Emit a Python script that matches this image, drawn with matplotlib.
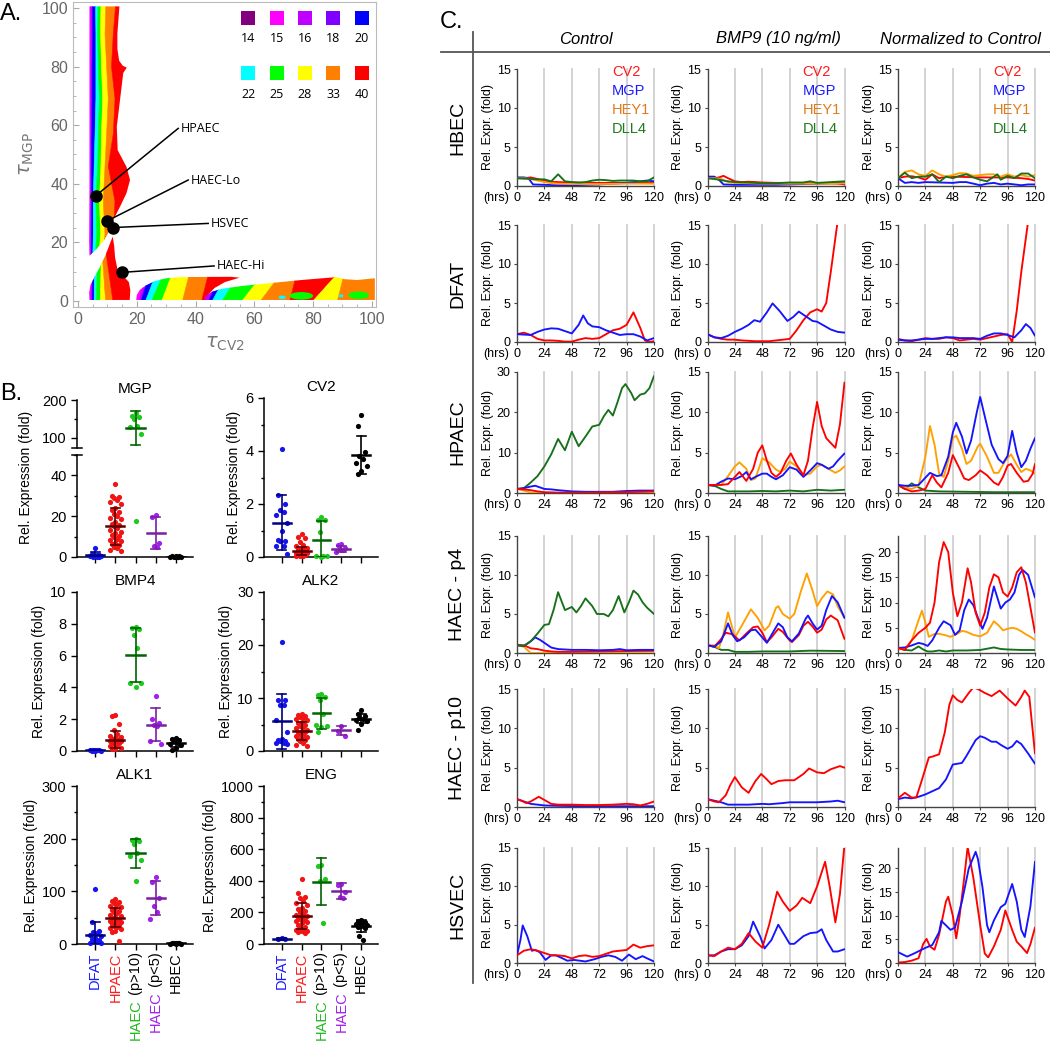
import matplotlib
matplotlib.use("Agg")
import matplotlib.pyplot as plt
from matplotlib.patches import Polygon, Ellipse
from matplotlib.lines import Line2D
from matplotlib.ticker import MultipleLocator

plt.rcParams["font.family"] = ["Liberation Sans", "DejaVu Sans"]
plt.rcParams["mathtext.fontset"] = "dejavusans"

W, H = 1050, 1045

# ---------------- panel A data ----------------
PERIOD_LABELS = [14, 15, 16, 18, 20, 22, 25, 28, 33, 40]
PERIOD_COLORS = ["#800080", "#ff00ff", "#c000ff", "#8000ff", "#0000ff",
                 "#00ffff", "#00ff00", "#ffff00", "#ff8000", "#ff0000"]
PCOL = dict(zip(PERIOD_LABELS, PERIOD_COLORS))

UPPER_OUTLINE = [(3.9, 100.5), (3.9, 40), (3.8, 20), (3.9, 15.5), (6.5, 18.0), (9.0, 21.0),
                 (10.9, 24.3), (12.0, 27.7), (14.3, 32.2), (16.5, 36.8), (17.7, 41.3),
                 (16.5, 45.8), (13.5, 51.5), (13.2, 59.5), (14.3, 68.6), (15.4, 77.8),
                 (16.6, 79.6), (15.2, 80.3), (14.0, 82), (13.4, 86), (13.4, 91.3), (14.1, 100.5)]
UPPER_LEVELS = [14, 23, 34, 46, 57, 69, 80, 91, 101]
UPPER_BOUNDS = [
    [4.2, 4.2, 4.3, 4.2, 4.3, 4.3, 4.4, 4.4, 4.4],
    [4.6, 4.6, 4.7, 4.6, 4.7, 4.8, 4.8, 5.0, 5.0],
    [5.0, 5.2, 5.2, 5.5, 5.8, 6.1, 6.1, 6.1, 6.0],
    [5.9, 6.35, 6.1, 6.7, 6.9, 7.3, 6.9, 6.7, 6.8],
    [7.0, 7.7, 7.3, 7.8, 8.0, 8.4, 8.0, 7.7, 7.8],
    [8.2, 9.2, 8.6, 9.2, 9.75, 10.3, 9.75, 9.2, 9.5],
    [11.5, 12.0, 12.6, 10.3, 12.0, 12.6, 11.4, 12.0, 12.8],
]
UPPER_PERIODS = [15, 16, 20, 22, 25, 28, 33, 40]

LOWER_OUTLINE = [(3.9, 0.4), (3.8, 3), (4.3, 5.5), (5.5, 8), (7.5, 11.7), (9.5, 16), (10.9, 19.7),
                 (11.8, 22.0), (12.3, 19), (12.6, 15), (13.5, 10.5), (15.5, 8.5), (17.3, 6.5),
                 (17.8, 3.8), (17.6, 0.4)]
LOWER_LEVELS = [-1, 23]
LOWER_BOUNDS = [[4.28, 4.79], [4.78, 5.29], [5.49, 5.66], [6.29, 6.63],
                [7.58, 8.09], [9.47, 7.76], [12.04, 8.61]]
LOWER_PERIODS = [15, 16, 20, 22, 25, 28, 33, 40]

STRIP1_OUTLINE = [(19.8, 0.4), (20.0, 2.0), (21.0, 3.8), (23.0, 5.3), (26.0, 6.8), (30.0, 7.8),
                  (35.0, 8.2), (52.0, 8.3), (55.0, 8.0), (50, 6.5), (46.5, 4.5), (44.5, 2.5), (44.0, 0.4)]
STRIP1_LEVELS = [-1, 9]
STRIP1_BOUNDS = [[20.3, 23.3], [21.1, 24.3], [22.6, 26.4], [24.6, 28.9],
                 [28.1, 31.9], [35.3, 37.8], [41.8, 44.3]]
STRIP1_PERIODS = [15, 16, 20, 22, 25, 28, 33, 40]

STRIP2_OUTLINE = [(43.0, 0.4), (43.5, 1.8), (45.5, 3.2), (49.0, 4.2), (56.0, 5.2), (66.0, 6.2),
                  (76.0, 7.2), (88.0, 8.2), (90.5, 7.5), (95.0, 7.2), (101, 7.8), (101, 0.4)]
STRIP2_LEVELS = [-1, 9]
STRIP2_BOUNDS = [[44.0, 48.5], [45.1, 50.6], [48.4, 54.6], [55.0, 62.8], [61.3, 68.8],
                 [71.8, 74.3], [79.0, 88.0], [88.0, 90.5]]
STRIP2_PERIODS = [16, 20, 22, 25, 28, 33, 40, 28, 33]

BLOBS = [(76, 1.8, 8, 2.6, 25), (69.5, 1.3, 2.5, 1.2, 22), (95.5, 2.0, 7, 2.6, 25), (89.5, 1.8, 1.6, 1.0, 22)]

CELL_LINES = ["HPAEC", "HAEC-Lo", "HSVEC", "HAEC-Hi"]
CELL_TAU_CV2 = [6.0, 10.0, 12.0, 14.9]
CELL_TAU_MGP = [35.9, 27.4, 25.1, 9.8]
CELL_LABEL_X = [34.1, 37.5, 44.3, 46.3]
CELL_LABEL_Y = [58.9, 41.3, 26.5, 12.0]

# ---------------- panel B data ----------------
GROUP_MAIN = ["DFAT", "HPAEC", "HAEC", "HAEC", "HBEC"]
GROUP_SUFFIX = ["", "", " (p>10)", " (p<5)", ""]
DOT_COLORS = ["#1414f0", "#f01414", "#1ec81e", "#a020f0", "#000000"]
BAR_COLORS = ["#000080", "#5a0000", "#006400", "#7b1fa2", "#000000"]
LABEL_COLORS = ["#1a1aff", "#ff1a1a", "#22b922", "#a020f0", "#000000"]

MGP_PTS = [[4.5, 1.6, 1.2, 1.0, 0.8, 0.7, 0.5, 0.4, 0.3, 0.2, 0.1, 0.1],
           [36, 30, 29.5, 29, 28, 27, 26, 24, 23, 22, 21, 20, 19, 18.5, 17, 16, 15.5, 15, 14, 13,
            12.5, 12, 11, 10.5, 10, 9, 8.5, 8, 7, 6.5, 6, 5, 4.5, 3.5, 3],
           [166, 158, 155, 150, 130, 128, 110, 17.5],
           [20.6, 19.5, 7.0, 5.3, 5.0],
           [0.4, 0.3, 0.3, 0.2, 0.2, 0.1, 0.1, 0.05]]
MGP_MEAN = [1.0, 15.0, 127, 11.7, 0.2]
MGP_SD = [1.5, 9.0, 45, 7.8, 0.2]

CV2_PTS = [[4.08, 2.35, 2.0, 1.78, 1.7, 1.6, 1.3, 1.0, 0.65, 0.6, 0.6, 0.42, 0.4, 0.1],
           [0.85, 0.75, 0.7, 0.55, 0.45, 0.4, 0.35, 0.3, 0.3, 0.25, 0.2, 0.2, 0.15, 0.15, 0.1,
            0.1, 0.08, 0.05, 0.05, 0.02],
           [1.5, 1.4, 1.38, 0.95, 0.05, 0.03, 0.02, 0.0],
           [0.5, 0.45, 0.35, 0.3, 0.25, 0.2],
           [5.35, 4.95, 3.95, 3.8, 3.7, 3.55, 3.45, 3.25, 3.15]]
CV2_MEAN = [1.3, 0.22, 0.65, 0.3, 3.85]
CV2_SD = [1.05, 0.15, 0.72, 0.12, 0.7]

BMP4_PTS = [[0.08, 0.06, 0.05, 0.05, 0.04, 0.04, 0.03, 0.03, 0.02],
            [2.25, 2.2, 1.7, 1.3, 1.1, 0.95, 0.9, 0.8, 0.75, 0.75, 0.7, 0.7, 0.65, 0.6, 0.6,
             0.55, 0.5, 0.45, 0.4, 0.3, 0.2, 0.15, 0.1],
            [7.8, 7.75, 7.7, 7.3, 6.45, 4.3, 4.25, 4.0],
            [3.45, 2.0, 1.75, 1.65, 1.6, 0.6, 0.45],
            [0.8, 0.75, 0.7, 0.6, 0.5, 0.45, 0.4, 0.2, 0.05]]
BMP4_MEAN = [0.05, 0.72, 6.05, 1.65, 0.5]
BMP4_SD = [0.03, 0.52, 1.7, 1.05, 0.25]

ALK2_PTS = [[20.5, 9.7, 9.6, 8.7, 8.6, 5.8, 3.5, 2.2, 2.0, 1.9, 1.8, 1.6, 1.5, 1.3],
            [7.0, 6.8, 6.6, 6.5, 6.2, 6.0, 5.8, 5.5, 5.2, 5.0, 4.8, 4.5, 4.3, 4.0, 3.8, 3.6,
             3.5, 3.3, 3.0, 2.8, 2.6, 2.4, 2.2, 2.0, 1.8, 1.5, 1.2, 1.0],
            [10.8, 10.5, 10.2, 9.6, 7.0, 5.0, 4.8, 4.5, 3.5],
            [4.8, 3.7, 2.9],
            [7.7, 7.0, 6.6, 6.3, 6.1, 5.9, 5.6, 5.1, 3.9]]
ALK2_MEAN = [5.6, 3.85, 7.1, 3.9, 6.1]
ALK2_SD = [5.2, 1.7, 2.9, 0.9, 0.8]

ALK1_PTS = [[105, 42, 25, 22, 20, 18, 15, 12, 10, 8, 5, 3, 2, 1],
            [85, 82, 80, 78, 76, 72, 70, 68, 65, 62, 60, 58, 55, 53, 52, 50, 48, 47, 45, 44,
             42, 40, 38, 36, 35, 33, 30, 28, 25, 22, 5],
            [200, 198, 195, 190, 172, 168, 160, 120],
            [127, 118, 88, 72, 60, 48],
            [2, 1.5, 1, 1, 1, 0.5, 0.5, 0.5]]
ALK1_MEAN = [17, 50, 172, 87, 1]
ALK1_SD = [25, 18, 27, 32, 0.5]

ENG_PTS = [[38, 30, 30],
           [410, 320, 300, 290, 270, 260, 250, 230, 220, 210, 200, 190, 185, 180, 175, 170,
            165, 160, 150, 145, 140, 130, 120, 110, 100, 95, 90, 85, 80, 75, 70],
           [500, 495, 410, 400, 135],
           [380, 375, 330, 300, 290],
           [150, 145, 140, 135, 130, 125, 120, 115, 110, 100, 50, 25]]
ENG_MEAN = [32, 175, 395, 335, 115]
ENG_SD = [5, 83, 150, 50, 37]

JITTER = [0.0, -0.18, 0.18, -0.09, 0.09, -0.27, 0.27]

# ---------------- panel C data (hours, fold) ----------------
HBEC_CTL = {
    "CV2": [(0, 1.0), (6, 1.0), (12, 1.1), (18, 0.9), (24, 0.7), (30, 0.55), (36, 0.5), (48, 0.45),
            (60, 0.4), (72, 0.4), (84, 0.4), (96, 0.4), (108, 0.4), (120, 0.45)],
    "MGP": [(0, 1.1), (6, 1.1), (10, 1.0), (14, 0.2), (24, 0.15), (36, 0.1), (48, 0.1), (60, 0.15),
            (72, 0.2), (84, 0.3), (96, 0.4), (108, 0.6), (114, 0.7), (120, 0.6)],
    "HEY1": [(0, 1.0), (6, 1.0), (12, 0.9), (18, 0.7), (24, 0.5), (30, 0.35), (36, 0.3), (48, 0.25),
             (72, 0.25), (96, 0.3), (120, 0.3)],
    "DLL4": [(0, 1.0), (6, 0.95), (12, 0.9), (18, 0.85), (24, 0.85), (30, 0.6), (36, 1.5), (42, 0.6),
             (48, 0.5), (54, 0.45), (60, 0.5), (66, 0.7), (72, 0.8), (78, 0.75), (84, 0.65), (90, 0.7),
             (96, 0.7), (102, 0.7), (108, 0.6), (114, 0.6), (120, 1.1)],
}
HBEC_BMP9 = {
    "CV2": [(0, 1.0), (6, 1.0), (10, 1.1), (14, 1.3), (18, 1.0), (24, 0.6), (30, 0.5), (36, 0.55),
            (48, 0.45), (60, 0.4), (72, 0.4), (84, 0.35), (96, 0.35), (108, 0.35), (114, 0.3), (120, 0.2)],
    "MGP": [(0, 1.2), (6, 1.2), (10, 0.8), (14, 0.2), (24, 0.15), (36, 0.15), (48, 0.15), (60, 0.15),
            (72, 0.2), (84, 0.25), (96, 0.3), (108, 0.35), (120, 0.4)],
    "HEY1": [(0, 1.0), (6, 1.0), (12, 0.9), (18, 0.5), (24, 0.4), (36, 0.35), (48, 0.3), (60, 0.3),
             (72, 0.3), (84, 0.3), (96, 0.3), (108, 0.3), (120, 0.35)],
    "DLL4": [(0, 1.0), (6, 0.9), (12, 0.75), (18, 0.6), (24, 0.5), (36, 0.45), (48, 0.35), (60, 0.35),
             (72, 0.45), (84, 0.45), (90, 0.6), (96, 0.4), (108, 0.5), (120, 0.6)],
}
HBEC_NORM = {
    "CV2": [(0, 1.0), (6, 1.2), (12, 1.25), (18, 1.1), (24, 0.8), (30, 1.5), (36, 1.0), (42, 1.2),
            (48, 1.2), (60, 1.15), (72, 1.1), (84, 1.1), (96, 1.1), (108, 1.0), (114, 0.9), (120, 0.7)],
    "MGP": [(0, 1.0), (6, 0.4), (12, 0.5), (18, 0.4), (24, 0.5), (36, 0.45), (48, 0.4), (54, 0.5),
            (60, 0.5), (66, 0.3), (72, 0.1), (78, 0.3), (84, 0.4), (90, 0.2), (96, 0.3), (102, 0.2),
            (108, 0.1), (114, 0.2), (120, 0.2)],
    "HEY1": [(0, 1.0), (6, 1.8), (12, 2.0), (18, 1.5), (24, 1.3), (30, 2.0), (36, 1.5), (42, 1.2),
             (48, 1.4), (54, 1.65), (60, 1.6), (66, 1.3), (72, 1.4), (78, 1.5), (84, 1.5), (90, 1.2),
             (96, 1.5), (102, 1.2), (108, 1.4), (114, 1.2), (120, 1.4)],
    "DLL4": [(0, 1.0), (6, 1.7), (12, 1.0), (18, 1.2), (24, 1.2), (30, 1.5), (36, 0.5), (42, 1.2),
             (48, 1.0), (54, 1.3), (60, 1.5), (66, 1.1), (72, 0.8), (78, 0.6), (84, 1.2), (87, 1.5),
             (90, 0.8), (96, 1.3), (102, 1.0), (108, 1.6), (114, 1.6), (120, 1.0)],
}
DFAT_CTL = {
    "CV2": [(0, 1.0), (6, 1.2), (12, 0.9), (18, 0.4), (24, 0.2), (30, 0.2), (36, 0.15), (42, 0.05),
            (48, 0.05), (54, 0.3), (60, 0.5), (66, 0.4), (72, 0.5), (78, 1.0), (84, 1.5), (90, 1.7),
            (96, 2.2), (102, 3.8), (108, 1.8), (112, 0.2), (116, 0.0), (120, 0.1)],
    "MGP": [(0, 1.0), (6, 0.95), (12, 0.9), (18, 1.3), (24, 1.6), (30, 1.75), (36, 1.7), (42, 1.4),
            (48, 1.1), (54, 2.2), (58, 3.4), (62, 2.4), (66, 2.0), (72, 1.9), (78, 1.5), (84, 1.2),
            (90, 0.9), (96, 1.0), (102, 1.0), (108, 0.7), (114, 0.2), (120, 0.5)],
}
DFAT_BMP9 = {
    "CV2": [(0, 1.0), (6, 0.6), (12, 0.4), (18, 0.3), (24, 0.3), (30, 0.2), (36, 0.15), (42, 0.1),
            (48, 0.1), (54, 0.1), (60, 0.2), (66, 0.3), (72, 0.4), (78, 1.5), (84, 2.8), (90, 3.8),
            (96, 4.2), (100, 3.9), (104, 5.0), (108, 9.0), (114, 15.5), (120, 20)],
    "MGP": [(0, 1.0), (6, 0.6), (12, 0.5), (18, 0.8), (24, 1.3), (30, 1.7), (36, 2.2), (41, 2.8),
            (46, 2.6), (52, 3.8), (57, 4.95), (63, 4.0), (70, 2.7), (75, 3.2), (80, 3.9), (86, 3.3),
            (92, 2.7), (96, 2.6), (102, 2.1), (108, 1.6), (114, 1.3), (120, 1.2)],
}
DFAT_NORM = {
    "CV2": [(0, 0.4), (6, 0.2), (12, 0.1), (18, 0.3), (24, 0.5), (30, 0.4), (36, 0.4), (42, 0.6),
            (48, 0.5), (54, 0.2), (60, 0.3), (66, 0.4), (72, 0.3), (78, 0.5), (84, 0.7), (90, 0.9),
            (96, 1.0), (100, 0.0), (104, 4.0), (108, 9.0), (114, 15.5), (120, 20)],
    "MGP": [(0, 0.3), (6, 0.2), (12, 0.2), (18, 0.3), (24, 0.4), (30, 0.4), (36, 0.5), (42, 0.6),
            (48, 0.6), (54, 0.5), (60, 0.5), (66, 0.5), (72, 0.4), (78, 0.8), (84, 1.1), (90, 1.1),
            (96, 0.9), (102, 0.6), (108, 1.5), (112, 2.3), (116, 1.8), (120, 0.8)],
}
HPAEC_CTL = {
    "HEY1": [(0, 1.0), (6, 0.6), (12, 0.1), (18, 0.0), (36, 0.0), (60, 0.05), (84, 0.1), (108, 0.15),
             (120, 0.2)],
    "DLL4": [(0, 1.0), (6, 1.2), (12, 2.6), (18, 4.2), (24, 6.6), (30, 9.6), (36, 13.4), (42, 10.6),
             (48, 15.2), (54, 11.6), (60, 14.0), (66, 16.5), (72, 16.9), (76, 19.0), (80, 20.6),
             (84, 19.2), (88, 22.5), (92, 26.0), (95, 27.0), (100, 24.8), (103, 23.0), (108, 24.4),
             (112, 24.7), (116, 26.0), (120, 29.0)],
    "MGP": [(0, 1.0), (6, 1.2), (12, 1.6), (16, 1.8), (20, 1.4), (24, 1.0), (30, 0.9), (36, 0.7),
            (48, 0.4), (60, 0.3), (72, 0.3), (84, 0.3), (96, 0.5), (108, 0.6), (120, 0.6)],
    "CV2": [(0, 1.0), (6, 0.9), (12, 0.7), (18, 0.4), (24, 0.2), (36, 0.1), (48, 0.1), (60, 0.1),
            (72, 0.15), (84, 0.2), (96, 0.2), (108, 0.3), (120, 0.4)],
}
HPAEC_BMP9 = {
    "DLL4": [(0, 1.0), (6, 0.9), (12, 0.5), (18, 0.2), (24, 0.2), (36, 0.2), (48, 0.25), (60, 0.2),
             (72, 0.3), (84, 0.2), (96, 0.4), (108, 0.3), (120, 0.4)],
    "HEY1": [(0, 1.0), (6, 1.0), (12, 1.0), (18, 2.1), (24, 3.3), (28, 3.8), (34, 3.0), (38, 1.6),
             (42, 1.8), (48, 4.3), (54, 3.8), (60, 2.9), (64, 2.6), (68, 3.0), (72, 3.9), (78, 3.3),
             (84, 2.2), (90, 2.4), (96, 3.3), (100, 3.5), (106, 3.0), (112, 2.5), (116, 2.8), (120, 3.3)],
    "MGP": [(0, 1.0), (6, 0.9), (12, 1.4), (18, 1.8), (24, 1.7), (30, 2.1), (34, 2.6), (38, 1.7),
            (42, 2.0), (48, 2.4), (52, 2.4), (56, 2.0), (60, 1.7), (66, 2.2), (72, 3.2), (78, 2.9),
            (84, 2.0), (90, 2.8), (96, 3.7), (100, 3.5), (106, 3.0), (110, 3.3), (114, 4.0), (120, 4.9)],
    "CV2": [(0, 1.0), (6, 1.0), (12, 1.0), (18, 1.1), (24, 2.0), (28, 2.6), (34, 1.5), (40, 3.0),
            (44, 5.0), (48, 5.9), (52, 4.0), (56, 2.5), (60, 2.0), (64, 2.5), (69, 4.0), (73, 4.9),
            (78, 3.5), (84, 2.2), (88, 4.0), (92, 8.0), (96, 11.3), (100, 8.3), (104, 6.8), (108, 6.2),
            (112, 5.6), (116, 8.5), (120, 13.7)],
}
HPAEC_NORM = {
    "DLL4": [(0, 1.0), (6, 0.5), (12, 1.2), (18, 0.7), (24, 0.3), (36, 0.2), (60, 0.15), (84, 0.1),
             (120, 0.1)],
    "HEY1": [(0, 1.0), (6, 0.7), (12, 0.5), (18, 0.9), (24, 4.5), (28, 8.3), (32, 6.0), (36, 2.4),
             (40, 2.0), (44, 4.0), (48, 6.8), (51, 7.1), (56, 5.5), (60, 3.6), (64, 4.0), (70, 5.8),
             (72, 6.1), (78, 4.5), (84, 2.5), (88, 2.5), (94, 4.0), (99, 4.8), (104, 3.5), (108, 2.6),
             (112, 3.0), (116, 2.8), (120, 2.4)],
    "CV2": [(0, 1.0), (6, 0.5), (12, 0.2), (18, 0.3), (24, 0.5), (30, 2.2), (34, 1.3), (38, 0.7),
            (44, 2.5), (48, 4.7), (54, 3.0), (58, 1.8), (62, 1.6), (68, 2.2), (72, 2.8), (78, 2.2),
            (84, 1.3), (88, 1.0), (92, 2.0), (96, 3.4), (99, 3.6), (104, 2.5), (110, 1.4), (114, 1.5),
            (118, 2.4), (120, 3.6)],
    "MGP": [(0, 1.0), (6, 0.9), (12, 0.9), (18, 1.0), (24, 1.9), (28, 2.5), (34, 2.1), (38, 2.2),
            (44, 4.5), (48, 7.5), (51, 8.7), (56, 7.0), (60, 4.9), (64, 6.5), (69, 10.0), (72, 11.9),
            (76, 9.5), (82, 6.0), (88, 4.2), (92, 3.7), (96, 4.6), (100, 7.7), (104, 5.0), (108, 3.2),
            (112, 4.0), (116, 5.5), (120, 6.8)],
}
P4_CTL = {
    "HEY1": [(0, 1.0), (6, 0.8), (12, 0.0), (24, 0.0), (48, 0.05), (72, 0.1), (96, 0.1), (120, 0.15)],
    "CV2": [(0, 1.0), (6, 1.0), (12, 0.6), (18, 0.5), (24, 0.3), (30, 0.2), (36, 0.15), (48, 0.15),
            (72, 0.2), (96, 0.25), (120, 0.3)],
    "MGP": [(0, 1.0), (6, 0.9), (12, 1.5), (16, 2.0), (20, 1.7), (26, 1.1), (30, 0.7), (36, 0.5),
            (48, 0.4), (60, 0.4), (72, 0.35), (84, 0.4), (90, 0.5), (96, 0.35), (108, 0.4), (120, 0.4)],
    "DLL4": [(0, 1.0), (6, 0.9), (12, 1.5), (18, 2.5), (24, 3.6), (28, 3.7), (32, 5.5), (36, 7.8),
             (42, 5.5), (48, 5.9), (52, 5.2), (56, 6.0), (60, 7.0), (66, 6.0), (70, 5.0), (76, 5.0),
             (80, 4.7), (84, 5.5), (89, 7.3), (94, 5.2), (98, 6.5), (102, 8.0), (106, 7.5), (110, 6.5),
             (114, 5.8), (120, 5.0)],
}
P4_BMP9 = {
    "DLL4": [(0, 1.0), (6, 0.8), (12, 0.4), (18, 0.4), (24, 0.15), (36, 0.15), (48, 0.2), (60, 0.2),
             (72, 0.2), (90, 0.3), (120, 0.25)],
    "HEY1": [(0, 1.0), (6, 1.0), (10, 0.6), (14, 2.5), (18, 5.2), (24, 2.0), (30, 3.5), (38, 5.6),
             (44, 4.5), (50, 2.9), (54, 3.5), (60, 5.8), (62, 6.0), (66, 5.0), (72, 4.4), (76, 5.0),
             (82, 8.0), (87, 10.2), (92, 8.0), (96, 6.0), (100, 7.0), (105, 7.9), (110, 7.5), (114, 6.0),
             (120, 4.5)],
    "CV2": [(0, 1.0), (6, 0.8), (12, 1.8), (16, 2.6), (22, 2.4), (28, 1.6), (34, 2.5), (40, 3.3),
            (44, 3.4), (48, 2.6), (52, 1.4), (56, 2.0), (62, 3.1), (66, 2.7), (72, 1.6), (74, 1.4),
            (80, 2.3), (84, 3.5), (88, 4.0), (92, 3.4), (96, 2.6), (100, 3.0), (104, 4.3), (108, 4.8),
            (114, 4.2), (120, 1.8)],
    "MGP": [(0, 1.0), (6, 0.8), (12, 1.5), (18, 3.8), (22, 2.3), (26, 1.5), (32, 2.0), (38, 2.9),
            (42, 3.0), (48, 2.0), (52, 1.3), (56, 2.3), (62, 3.8), (66, 3.3), (70, 2.0), (74, 1.5),
            (80, 2.5), (86, 4.4), (88, 4.8), (92, 3.8), (96, 3.0), (100, 3.5), (104, 5.5), (109, 7.3),
            (114, 6.5), (120, 4.5)],
}
P4_NORM = {
    "DLL4": [(0, 1.0), (6, 0.6), (12, 0.5), (18, 1.3), (22, 0.7), (26, 0.3), (30, 0.3), (36, 0.5),
             (42, 0.3), (48, 0.5), (60, 0.5), (72, 0.6), (84, 1.1), (90, 0.8), (96, 0.7), (108, 0.6),
             (120, 0.6)],
    "HEY1": [(0, 1.0), (6, 0.8), (12, 2.5), (18, 6.5), (21, 8.4), (24, 6.0), (27, 3.2), (32, 3.8),
             (36, 3.8), (42, 3.5), (46, 3.2), (52, 3.8), (56, 4.4), (60, 4.2), (66, 3.6), (72, 3.3),
             (78, 4.0), (84, 6.3), (88, 5.5), (92, 4.5), (96, 4.8), (100, 5.0), (104, 4.8), (108, 4.3),
             (112, 3.7), (116, 3.2), (120, 2.6)],
    "MGP": [(0, 1.0), (6, 1.1), (12, 1.5), (18, 2.0), (22, 1.8), (26, 1.4), (30, 2.5), (36, 5.0),
            (40, 6.3), (46, 5.5), (50, 3.6), (54, 4.5), (58, 8.5), (62, 10.6), (66, 9.5), (70, 7.0),
            (74, 4.8), (78, 7.0), (84, 13.2), (87, 11.0), (90, 8.8), (94, 10.0), (98, 10.6), (102, 12.0),
            (106, 15.5), (109, 16.5), (114, 15.5), (120, 11.0)],
    "CV2": [(0, 1.0), (6, 0.6), (12, 2.5), (18, 4.0), (24, 5.0), (28, 6.0), (32, 10.0), (36, 18.0),
            (40, 22.0), (44, 20.0), (48, 12.0), (52, 7.3), (56, 10.0), (61, 16.8), (64, 14.0), (68, 8.0),
            (72, 5.4), (76, 8.0), (80, 13.0), (84, 15.6), (88, 15.0), (92, 12.0), (96, 11.2), (100, 13.0),
            (104, 16.0), (108, 17.0), (112, 14.0), (116, 9.0), (120, 4.0)],
}
P10_CTL = {
    "MGP": [(0, 1.0), (6, 0.7), (12, 0.4), (18, 0.3), (24, 0.2), (36, 0.15), (60, 0.1), (84, 0.1),
            (120, 0.1)],
    "CV2": [(0, 1.0), (4, 0.8), (8, 0.5), (12, 0.7), (19, 1.3), (24, 0.9), (30, 0.4), (36, 0.3),
            (48, 0.3), (60, 0.25), (72, 0.25), (84, 0.3), (96, 0.4), (102, 0.35), (108, 0.2), (114, 0.4),
            (120, 0.7)],
}
P10_BMP9 = {
    "MGP": [(0, 1.0), (6, 0.8), (12, 0.6), (18, 0.3), (24, 0.3), (36, 0.3), (48, 0.4), (54, 0.35),
            (66, 0.5), (72, 0.6), (84, 0.6), (96, 0.6), (108, 0.7), (114, 0.8), (120, 0.6)],
    "CV2": [(0, 1.0), (6, 0.7), (10, 0.6), (16, 1.5), (20, 2.8), (24, 3.8), (30, 2.5), (36, 1.8),
            (42, 3.3), (47, 4.2), (52, 3.5), (56, 2.9), (62, 3.3), (68, 3.4), (76, 3.4), (84, 4.2),
            (89, 4.9), (96, 4.4), (102, 4.3), (108, 4.8), (116, 5.2), (120, 5.0)],
}
P10_NORM = {
    "MGP": [(0, 1.0), (6, 1.2), (12, 1.1), (18, 1.3), (24, 1.6), (30, 2.0), (36, 2.4), (42, 3.5),
            (48, 5.4), (52, 5.5), (56, 5.6), (60, 6.5), (64, 7.5), (68, 8.5), (72, 9.0), (76, 8.8),
            (82, 8.3), (86, 8.3), (90, 7.9), (96, 7.4), (100, 7.7), (104, 8.4), (108, 8.0), (114, 6.8),
            (120, 5.5)],
    "CV2": [(0, 1.1), (6, 1.8), (12, 1.2), (16, 1.2), (20, 3.0), (27, 6.3), (30, 6.4), (36, 6.7),
            (41, 9.5), (45, 13.0), (48, 14.2), (52, 13.6), (56, 13.3), (62, 14.5), (66, 15.2), (70, 15.0),
            (76, 14.5), (82, 14.1), (89, 14.8), (96, 13.8), (103, 12.9), (108, 14.0), (111, 14.8),
            (115, 14.0), (120, 6.8)],
}
HSVEC_CTL = {
    "MGP": [(0, 1.0), (3, 3.0), (5, 4.9), (9, 3.5), (13, 1.6), (16, 1.7), (20, 1.4), (25, 0.4),
            (30, 1.0), (34, 1.0), (40, 0.6), (44, 0.3), (50, 0.4), (60, 0.2), (68, 0.5), (74, 0.8),
            (80, 1.0), (86, 0.8), (92, 0.3), (98, 1.1), (104, 0.5), (110, 0.9), (114, 0.6), (120, 0.2)],
    "CV2": [(0, 1.0), (6, 1.6), (12, 1.8), (18, 1.6), (24, 1.3), (30, 1.0), (36, 1.0), (42, 0.9),
            (48, 0.6), (54, 0.9), (60, 1.0), (66, 0.8), (72, 0.9), (78, 1.2), (84, 1.5), (90, 1.6),
            (96, 1.7), (102, 2.4), (108, 2.0), (114, 2.2), (120, 2.3)],
}
HSVEC_BMP9 = {
    "MGP": [(0, 1.0), (6, 1.0), (12, 1.5), (18, 1.8), (24, 1.8), (30, 2.3), (36, 3.5), (40, 5.4),
            (46, 3.5), (50, 1.9), (56, 3.0), (62, 5.0), (66, 4.0), (72, 2.5), (76, 2.5), (84, 3.5),
            (90, 3.9), (96, 4.0), (100, 4.4), (104, 3.0), (110, 1.5), (114, 1.5), (120, 1.8)],
    "CV2": [(0, 1.0), (6, 0.9), (12, 1.5), (18, 2.0), (24, 1.8), (30, 2.5), (36, 3.9), (42, 2.8),
            (48, 2.0), (54, 5.0), (61, 9.3), (66, 8.0), (72, 6.8), (78, 7.5), (83, 8.5), (90, 7.8),
            (96, 10.0), (103, 13.2), (107, 10.0), (112, 5.3), (116, 9.0), (120, 15.5)],
}
HSVEC_NORM = {
    "CV2": [(0, 0.1), (6, 0.2), (12, 0.5), (18, 1.0), (22, 4.0), (25, 5.1), (28, 3.5), (32, 2.8),
            (36, 6.0), (42, 13.0), (44, 14.0), (48, 10.0), (51, 5.2), (54, 10.0), (58, 18.0), (61, 24.5),
            (66, 18.0), (72, 8.0), (76, 2.0), (79, 1.2), (84, 3.5), (90, 7.0), (94, 11.1), (100, 7.0),
            (104, 4.5), (108, 3.5), (113, 2.1), (116, 4.0), (120, 7.5)],
    "MGP": [(0, 2.3), (8, 1.35), (14, 2.0), (24, 3.2), (30, 3.8), (36, 6.5), (38, 8.9), (46, 7.0),
            (50, 7.5), (56, 13.0), (62, 20.0), (68, 23.5), (70, 22.0), (74, 16.0), (78, 8.0), (80, 6.5),
            (84, 9.0), (90, 11.8), (94, 12.5), (100, 16.7), (104, 13.0), (108, 7.0), (111, 5.5),
            (116, 12.0), (120, 21.4)],
}

ROW_NAMES = ["HBEC", "DFAT", "HPAEC", "HAEC - p4", "HAEC - p10", "HSVEC"]
COL_TITLES = ["Control", "BMP9 (10 ng/ml)", "Normalized to Control"]
PANELS = [[HBEC_CTL, HBEC_BMP9, HBEC_NORM],
          [DFAT_CTL, DFAT_BMP9, DFAT_NORM],
          [HPAEC_CTL, HPAEC_BMP9, HPAEC_NORM],
          [P4_CTL, P4_BMP9, P4_NORM],
          [P10_CTL, P10_BMP9, P10_NORM],
          [HSVEC_CTL, HSVEC_BMP9, HSVEC_NORM]]
YMAX = [[15, 15, 15], [15, 15, 15], [30, 15, 15], [15, 15, 23.2], [15, 15, 15], [15, 15, 24.3]]
GENE_COLORS = {"CV2": "#ff0000", "MGP": "#1414ff", "HEY1": "#ffa000", "DLL4": "#17701a"}
LEGEND_COLORS = {"CV2": "#ff1a1a", "MGP": "#1a1aff", "HEY1": "#e07b1a", "DLL4": "#1f7a1f"}

fig = plt.figure(figsize=(W / 100, H / 100), dpi=100)


def px_axes(left, top, right, bottom):
    return fig.add_axes([left / W, 1 - bottom / H, (right - left) / W, (bottom - top) / H])


def fig_xy(x, y):
    return x / W, 1 - y / H


# ================= A =================
axA = px_axes(73, 2, 376, 307)
axA.set_xlim(-1.7, 101.4)
axA.set_ylim(-2, 102)


def draw_region(outline, levels, bounds, periods, xlo, xhi):
    clip = Polygon(outline, closed=True, facecolor="none", edgecolor="none")
    axA.add_patch(clip)
    edges = [[xlo] * len(levels)] + bounds + [[xhi] * len(levels)]
    for left, right, p in zip(edges[:-1], edges[1:], periods):
        verts = list(zip(left, levels)) + list(zip(right[::-1], levels[::-1]))
        band = Polygon(verts, closed=True, facecolor=PCOL[p], edgecolor=PCOL[p], lw=0.4)
        axA.add_patch(band)
        band.set_clip_path(clip)
    return clip


draw_region(UPPER_OUTLINE, UPPER_LEVELS, UPPER_BOUNDS, UPPER_PERIODS, 0, 25)
draw_region(LOWER_OUTLINE, LOWER_LEVELS, LOWER_BOUNDS, LOWER_PERIODS, 0, 25)
draw_region(STRIP1_OUTLINE, STRIP1_LEVELS, STRIP1_BOUNDS, STRIP1_PERIODS, 15, 60)
clip2 = draw_region(STRIP2_OUTLINE, STRIP2_LEVELS, STRIP2_BOUNDS, STRIP2_PERIODS, 40, 102)
for bx, by, bw, bh, p in BLOBS:
    e = Ellipse((bx, by), bw, bh, facecolor=PCOL[p], edgecolor="none")
    axA.add_patch(e)
    e.set_clip_path(clip2)

for name, cx, cy, lx, ly in zip(CELL_LINES, CELL_TAU_CV2, CELL_TAU_MGP, CELL_LABEL_X, CELL_LABEL_Y):
    axA.plot([cx, lx], [cy, ly], color="black", lw=1.1, zorder=5)
    axA.plot(cx, cy, "o", color="black", ms=8, zorder=6)
    axA.text(lx + 1.0, ly, name, fontsize=9, va="center", ha="left",
             family=["Open Sans", "DejaVu Sans"], zorder=6)

sq_x = [57.9, 67.6, 77.2, 86.8, 96.5]
for row, (sy, ty) in enumerate([(96.6, 89.5), (77.7, 70.6)]):
    labs = PERIOD_LABELS[row * 5:(row + 1) * 5]
    axA.scatter(sq_x, [sy] * 5, marker="s", s=100, c=[PCOL[v] for v in labs], linewidths=0, zorder=5)
    for x, v in zip(sq_x, labs):
        axA.text(x, ty, str(v), ha="center", va="center", fontsize=9, family=["Open Sans", "DejaVu Sans"])

axA.set_xticks(range(0, 101, 20))
axA.set_yticks(range(0, 101, 20))
axA.xaxis.set_minor_locator(MultipleLocator(5))
axA.yaxis.set_minor_locator(MultipleLocator(5))
axA.tick_params(which="both", direction="in", color="#aaaaaa", labelcolor="#666666", labelsize=11.5)
axA.tick_params(which="major", length=4)
axA.tick_params(which="minor", length=2)
for s in axA.spines.values():
    s.set_color("#bbbbbb")
axA.set_xlabel(r"$\tau_{\mathrm{CV2}}$", color="#777777", fontsize=14, labelpad=6)
axA.set_ylabel(r"$\tau_{\mathrm{MGP}}$", color="#777777", fontsize=14, labelpad=4)

fig.text(*fig_xy(0, 14), "A.", fontsize=17, va="center", ha="left")
fig.text(*fig_xy(0, 394), "B.", fontsize=17, va="center", ha="left")
fig.text(*fig_xy(440, 22), "C.", fontsize=17, va="center", ha="left")


# ================= B =================
def style_b(ax):
    for s in ("top", "right"):
        ax.spines[s].set_visible(False)
    for s in ("left", "bottom"):
        ax.spines[s].set_linewidth(1.1)
    ax.set_xlim(-0.9, 4.85)
    ax.set_xticks(range(5))
    ax.set_xticklabels([])
    ax.tick_params(which="both", direction="out", labelsize=10.5, width=1.0)
    ax.tick_params(which="major", length=4)
    ax.tick_params(which="minor", length=2.5)


def dots(ax, i, vals):
    order = sorted(vals, reverse=True)
    xs = [i + JITTER[k % len(JITTER)] for k in range(len(order))]
    ax.scatter(xs, order, s=14, color=DOT_COLORS[i], linewidths=0, zorder=3, clip_on=False)


def mean_sd(ax, i, m, e):
    c = BAR_COLORS[i]
    lo = max(m - e, 0)
    ax.plot([i - 0.45, i + 0.45], [m, m], color=c, lw=1.8, zorder=4)
    ax.plot([i, i], [lo, m + e], color=c, lw=1.2, zorder=4)
    for y in (lo, m + e):
        ax.plot([i - 0.22, i + 0.22], [y, y], color=c, lw=1.2, zorder=4)


def group_labels(ax):
    for i in range(5):
        kw = dict(rotation=90, ha="center", va="top", fontsize=10.5)
        if GROUP_SUFFIX[i]:
            t = ax.annotate(GROUP_SUFFIX[i], xy=(i, 0), xycoords=("data", "axes fraction"),
                            xytext=(0, -6), textcoords="offset points", color="black", **kw)
            ax.annotate(GROUP_MAIN[i], xy=(0.5, 0), xycoords=t, color=LABEL_COLORS[i], **kw)
        else:
            ax.annotate(GROUP_MAIN[i], xy=(i, 0), xycoords=("data", "axes fraction"),
                        xytext=(0, -6), textcoords="offset points", color=LABEL_COLORS[i], **kw)


def dot_panel(box, pts, means, sds, ymax, major, minor, title, bottom=False):
    ax = px_axes(*box)
    style_b(ax)
    ax.set_ylim(0, ymax)
    ax.yaxis.set_major_locator(MultipleLocator(major))
    if minor:
        ax.yaxis.set_minor_locator(MultipleLocator(minor))
    for i in range(5):
        dots(ax, i, pts[i])
        mean_sd(ax, i, means[i], sds[i])
    ax.set_title(title, fontsize=11, pad=5)
    ax.set_ylabel("Rel. Expression (fold)", fontsize=10, labelpad=3)
    if bottom:
        group_labels(ax)
    return ax


# MGP broken axis
mgp_hi = px_axes(77, 400, 193, 448)
mgp_lo = px_axes(77, 455, 193, 557)
style_b(mgp_hi)
style_b(mgp_lo)
mgp_hi.spines["bottom"].set_visible(False)
mgp_hi.tick_params(axis="x", which="both", bottom=False)
mgp_hi.set_ylim(73, 200)
mgp_hi.set_yticks([100, 200])
mgp_hi.yaxis.set_minor_locator(MultipleLocator(50))
mgp_lo.set_ylim(0, 50)
mgp_lo.set_yticks([0, 20, 40])
mgp_lo.yaxis.set_minor_locator(MultipleLocator(10))
for i in range(5):
    hi = [v for v in MGP_PTS[i] if v > 60]
    lo = [v for v in MGP_PTS[i] if v <= 60]
    if hi:
        dots(mgp_hi, i, hi)
    if lo:
        dots(mgp_lo, i, lo)
    mean_sd(mgp_hi if MGP_MEAN[i] > 60 else mgp_lo, i, MGP_MEAN[i], MGP_SD[i])
for ax_, yy in ((mgp_hi, 0), (mgp_lo, 1)):
    ax_.plot([-0.04, 0.04], [yy, yy], transform=ax_.transAxes, color="black", lw=1.1, clip_on=False)
mgp_hi.set_title("MGP", fontsize=11, pad=5)
mgp_lo.set_ylabel("Rel. Expression (fold)", fontsize=10)
mgp_lo.yaxis.set_label_coords(-0.38, 0.78)

dot_panel((264, 398, 378, 557), CV2_PTS, CV2_MEAN, CV2_SD, 6, 2, 1, "CV2")
dot_panel((77, 592, 193, 751), BMP4_PTS, BMP4_MEAN, BMP4_SD, 10, 2, None, "BMP4")
dot_panel((264, 592, 378, 751), ALK2_PTS, ALK2_MEAN, ALK2_SD, 30, 10, 5, "ALK2")
dot_panel((77, 786, 193, 944), ALK1_PTS, ALK1_MEAN, ALK1_SD, 300, 100, 50, "ALK1", bottom=True)
dot_panel((264, 786, 378, 944), ENG_PTS, ENG_MEAN, ENG_SD, 1000, 200, 100, "ENG", bottom=True)

# ================= C =================
ROW_PX = [(69, 186), (225, 342), (372, 493), (536, 653), (689, 807), (848, 963)]
COL_PX = [517, 707.5, 898]
TITLE_X = [586, 778, 961]
AX_W = 137

fig.add_artist(Line2D([473 / W, 473 / W], [1 - 32 / H, 1 - 983 / H], color="#555555", lw=1.3))
fig.add_artist(Line2D([441 / W, 1.0], [1 - 52 / H, 1 - 52 / H], color="#555555", lw=1.3))
for c, title in enumerate(COL_TITLES):
    fig.text(*fig_xy(TITLE_X[c], 39), title, fontsize=12, style="italic", ha="center", va="center")

for r, name in enumerate(ROW_NAMES):
    top, bot = ROW_PX[r]
    fig.text(*fig_xy(458, (top + bot) / 2), name, rotation=90, fontsize=14, ha="center", va="center")
    for c in range(3):
        ax = px_axes(COL_PX[c], top, COL_PX[c] + AX_W, bot)
        ymax = YMAX[r][c]
        ax.set_xlim(0, 120)
        ax.set_ylim(0, ymax)
        for g in (24, 48, 72, 96, 120):
            ax.axvline(g, color="#d0d0d0", lw=1.3, zorder=0, clip_on=False)
        for gene, pts in PANELS[r][c].items():
            ax.plot([p[0] for p in pts], [p[1] for p in pts], color=GENE_COLORS[gene], lw=1.35,
                    solid_joinstyle="round", solid_capstyle="round", zorder=3)
        for s in ("top", "right"):
            ax.spines[s].set_visible(False)
        for s in ("left", "bottom"):
            ax.spines[s].set_color("#444444")
            ax.spines[s].set_linewidth(1.0)
        ax.set_xticks([0, 24, 48, 72, 96, 120])
        ax.set_yticks([0, 10, 20, 30] if ymax == 30 else [v for v in (0, 5, 10, 15, 20) if v <= ymax])
        ax.tick_params(labelsize=9, length=2.5, pad=2, color="#444444")
        ax.set_ylabel("Rel. Expr. (fold)", fontsize=9, labelpad=2)
        ax.annotate("(hrs)", xy=(0, 0), xycoords="axes fraction", xytext=(-6, -4.3),
                    textcoords="offset points", ha="right", va="top", fontsize=9)
        if r == 0:
            for k, gene in enumerate(["CV2", "MGP", "HEY1", "DLL4"]):
                ax.text(83, [14.6, 12.2, 9.7, 7.3][k], gene, color=LEGEND_COLORS[gene],
                        fontsize=10.5, va="center", ha="left")

fig.savefig("out.png", dpi=100)
